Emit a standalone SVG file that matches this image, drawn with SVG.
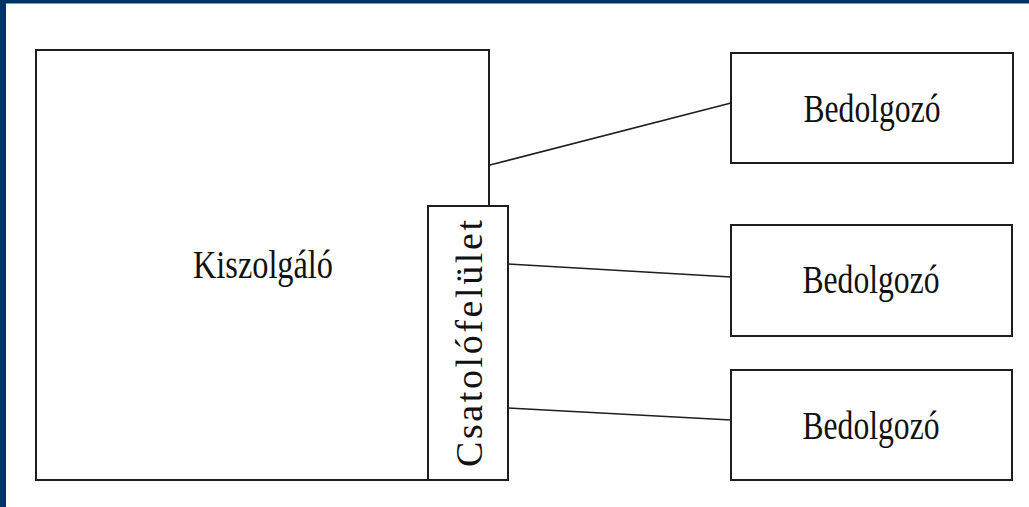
<svg xmlns="http://www.w3.org/2000/svg" width="1029" height="507" viewBox="0 0 1029 507">
  <style>
    .box { fill: #ffffff; stroke: #1e1e1e; stroke-width: 2; }
    .conn { stroke: #1e1e1e; stroke-width: 1.6; fill: none; }
    .lbl { font-family: "Liberation Serif", "Times New Roman", serif; fill: #111111; }
  </style>
  <rect x="0" y="0" width="1029" height="507" fill="#ffffff"/>
  <rect x="0" y="0" width="1029" height="3.5" fill="#003468"/>
  <rect x="0" y="0" width="6" height="507" fill="#003468"/>
  <g id="connectors">
    <line class="conn" x1="490" y1="165" x2="731" y2="103"/>
    <line class="conn" x1="508" y1="264" x2="731" y2="277"/>
    <line class="conn" x1="508" y1="408" x2="731" y2="420"/>
  </g>
  <g id="kiszolgalo">
    <rect class="box" x="36" y="50" width="453" height="430"/>
    <text class="lbl" x="193" y="278" font-size="40" textLength="140" lengthAdjust="spacingAndGlyphs">Kiszolgáló</text>
  </g>
  <g id="csatolofelulet">
    <rect class="box" x="428" y="206" width="80" height="274"/>
    <text class="lbl" transform="translate(482,467) rotate(-90)" x="0" y="0" font-size="38" textLength="247">Csatolófelület</text>
  </g>
  <g id="bedolgozo1">
    <rect class="box" x="731" y="53" width="282" height="110"/>
    <text class="lbl" x="872" y="122" font-size="40" text-anchor="middle" textLength="137" lengthAdjust="spacingAndGlyphs">Bedolgozó</text>
  </g>
  <g id="bedolgozo2">
    <rect class="box" x="731" y="225" width="281" height="111"/>
    <text class="lbl" x="871" y="293" font-size="40" text-anchor="middle" textLength="137" lengthAdjust="spacingAndGlyphs">Bedolgozó</text>
  </g>
  <g id="bedolgozo3">
    <rect class="box" x="731" y="370" width="281" height="110"/>
    <text class="lbl" x="871" y="439" font-size="40" text-anchor="middle" textLength="137" lengthAdjust="spacingAndGlyphs">Bedolgozó</text>
  </g>
</svg>
